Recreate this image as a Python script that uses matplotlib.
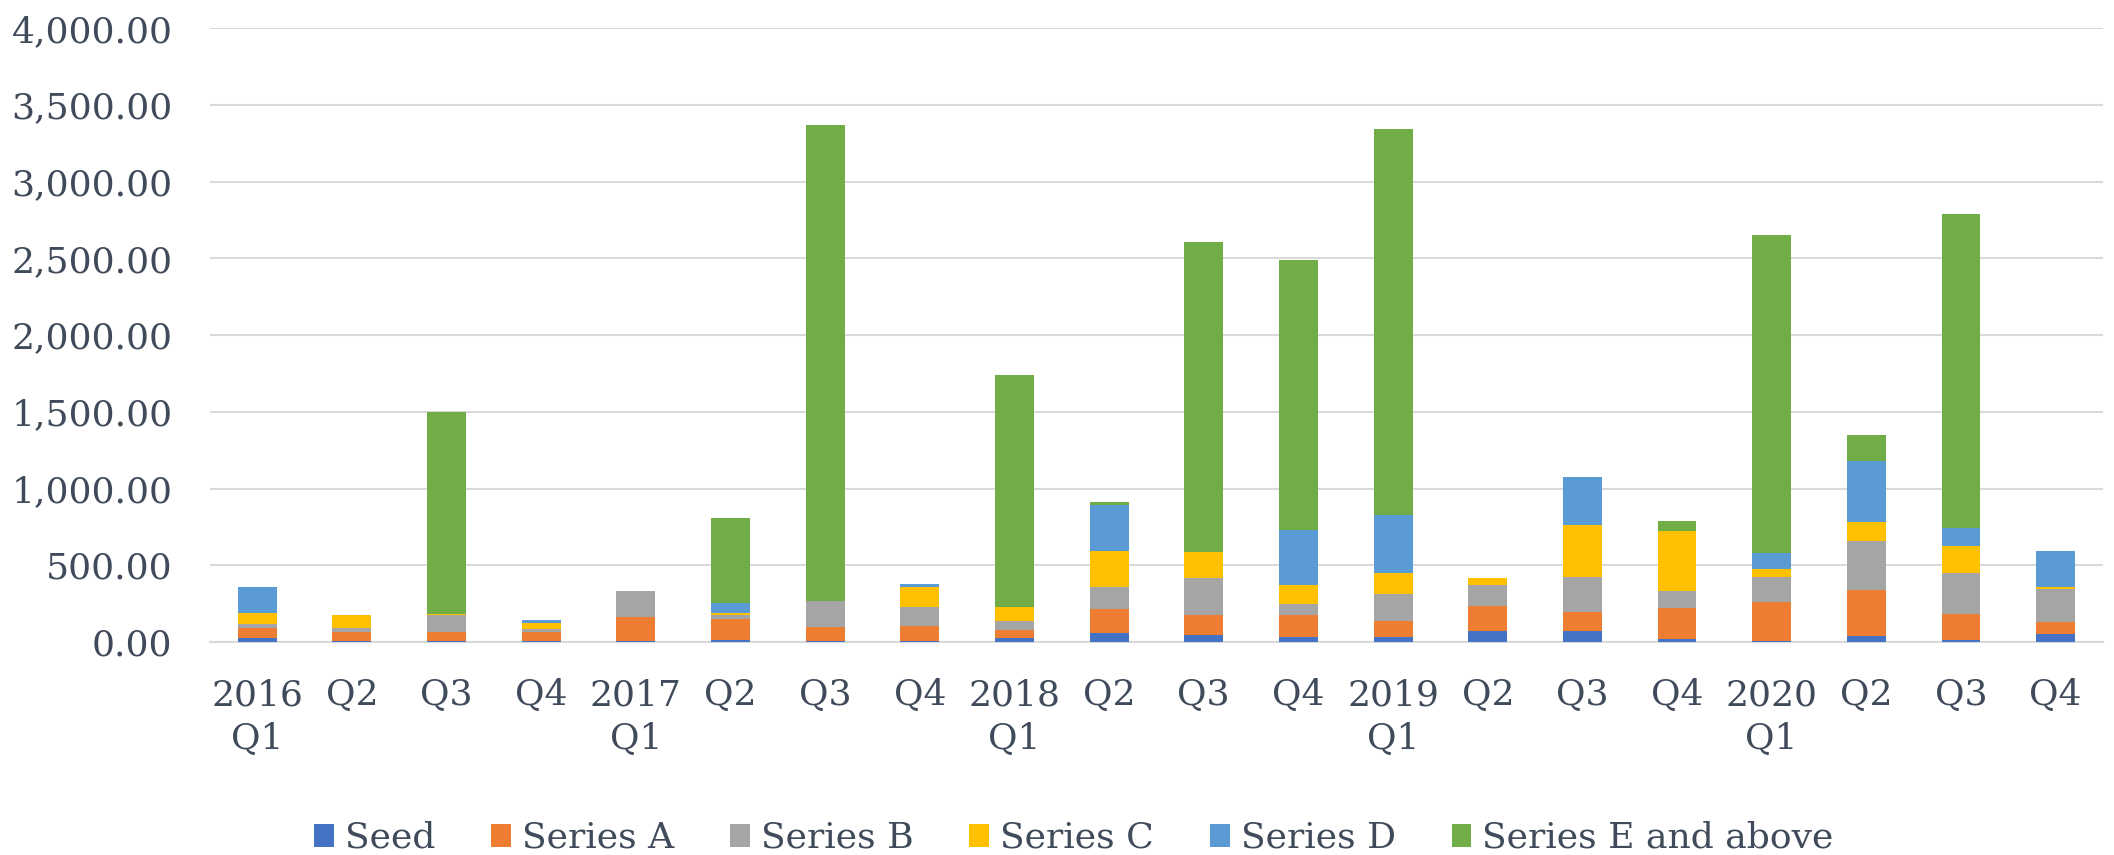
import matplotlib
matplotlib.use("Agg")
import matplotlib.pyplot as plt
import numpy as np
from matplotlib.ticker import FuncFormatter

quarters = ["2016\nQ1", "Q2", "Q3", "Q4", "2017\nQ1", "Q2", "Q3", "Q4",
            "2018\nQ1", "Q2", "Q3", "Q4", "2019\nQ1", "Q2", "Q3", "Q4",
            "2020\nQ1", "Q2", "Q3", "Q4"]

seed = [30, 10, 5, 10, 5, 15, 8, 10, 30, 60, 45, 35, 35, 75, 72, 20, 10, 40, 15, 50]
series_a = [65, 55, 60, 55, 160, 135, 90, 98, 50, 155, 133, 140, 105, 163, 125, 203, 250, 302, 168, 82]
series_b = [25, 25, 110, 20, 165, 25, 167, 123, 60, 146, 240, 76, 173, 134, 226, 107, 161, 317, 270, 215]
series_c = [70, 85, 5, 42, 0, 15, 0, 125, 91, 231, 170, 118, 135, 43, 338, 395, 54, 125, 176, 15]
series_d = [172, 0, 5, 17, 0, 64, 0, 21, 0, 302, 0, 360, 378, 0, 315, 0, 108, 398, 114, 231]
series_e = [0, 0, 1315, 0, 0, 554, 3102, 0, 1509, 21, 2020, 1763, 2515, 0, 0, 64, 2068, 166, 2047, 0]

names = ["Seed", "Series A", "Series B", "Series C", "Series D", "Series E and above"]
colors = ["#4472C4", "#ED7D31", "#A5A5A5", "#FFC000", "#5B9BD5", "#70AD47"]
text_color = "#3F4A5A"

plt.rcParams["font.family"] = ["DejaVu Serif"]

fig = plt.figure(figsize=(21.14, 8.55), dpi=100)
ax = fig.add_axes([0.0993, 0.249, 0.8955, 0.718])

x = np.arange(len(quarters))
bottom = np.zeros(len(quarters))
for name, vals, col in zip(names, [seed, series_a, series_b, series_c, series_d, series_e], colors):
    ax.bar(x, vals, width=0.41, bottom=bottom, color=col, label=name, zorder=3)
    bottom += np.array(vals)

ax.set_xlim(-0.5, len(quarters) - 0.5)
ax.set_ylim(0, 4000)
ax.set_yticks(np.arange(0, 4001, 500))
ax.yaxis.set_major_formatter(FuncFormatter(lambda v, p: f"{v:,.2f}"))
ax.set_xticks(x)
ax.set_xticklabels(quarters, linespacing=1.38)

ax.grid(axis="y", color="#D9D9D9", linewidth=1.5, zorder=0)
for s in ["top", "right", "left"]:
    ax.spines[s].set_visible(False)
ax.spines["bottom"].set_color("#D9D9D9")
ax.spines["bottom"].set_linewidth(1.5)
ax.tick_params(axis="both", length=0, labelsize=26, colors=text_color)
ax.tick_params(axis="x", pad=26)
ax.tick_params(axis="y", pad=27)

fig.legend(loc="center", bbox_to_anchor=(0.508, 0.02), ncol=6, frameon=False,
           fontsize=26, handlelength=0.55, handleheight=0.6, handletextpad=0.3,
           columnspacing=1.55, labelcolor=text_color)

fig.savefig("out.png", dpi=100)
